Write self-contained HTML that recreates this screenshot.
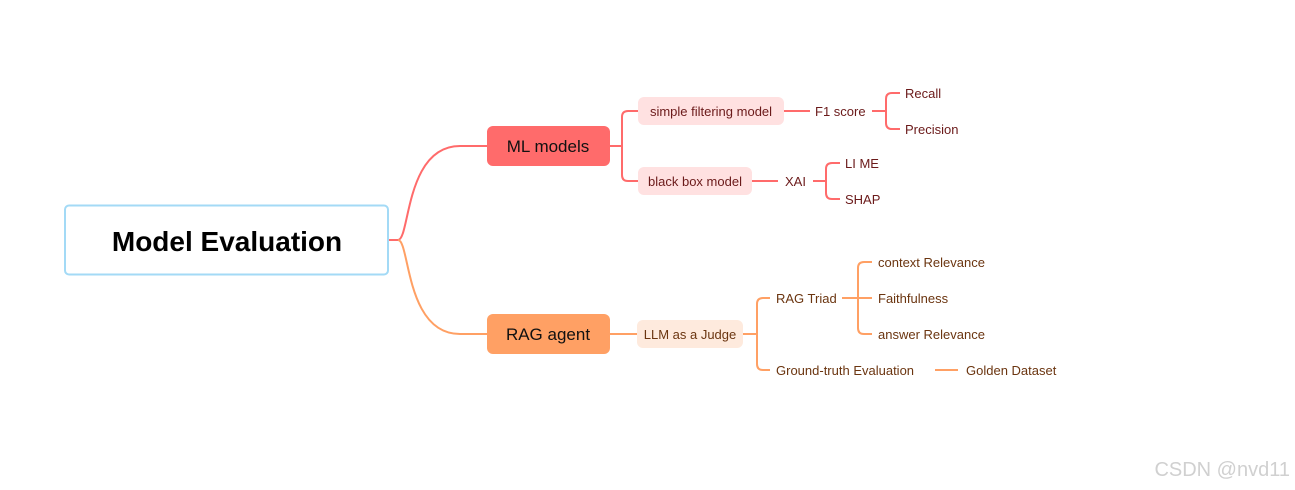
<!DOCTYPE html>
<html><head><style>
html,body{margin:0;padding:0;background:#fff;}
svg{display:block;font-family:"Liberation Sans",sans-serif;}
</style></head><body>
<svg width="1295" height="490" viewBox="0 0 1295 490">
<!-- root curves -->
<path d="M388 240 H398 C410 240 405 146 460 146 H487" fill="none" stroke="#ff6b6b" stroke-width="2"/>
<path d="M398 240 C410 240 405 334 460 334 H487" fill="none" stroke="#ffa064" stroke-width="2"/>
<rect x="65" y="205.5" width="323" height="69" rx="4" fill="#fff" stroke="#a3daf6" stroke-width="2"/>
<text x="227" y="251" font-size="28" font-weight="bold" text-anchor="middle" fill="#000">Model Evaluation</text>

<!-- ML branch -->
<g fill="none" stroke="#ff6b6b" stroke-width="2">
<path d="M610 146 H622"/>
<path d="M638 111 H628 Q622 111 622 117 V175 Q622 181 628 181 H638"/>
<path d="M784 111 H810"/>
<path d="M872 111 H886"/>
<path d="M900 93 H892 Q886 93 886 99 V123 Q886 129 892 129 H900"/>
<path d="M752 181 H778"/>
<path d="M813 181 H826"/>
<path d="M840 163 H832 Q826 163 826 169 V193 Q826 199 832 199 H840"/>
</g>
<rect x="487" y="126" width="123" height="40" rx="6" fill="#ff6b6b"/>
<text x="548" y="152" font-size="17" text-anchor="middle" fill="#111">ML models</text>
<rect x="638" y="97" width="146" height="28" rx="6" fill="#ffe1e1"/>
<text x="711" y="116" font-size="13" text-anchor="middle" fill="#6b1a1a">simple filtering model</text>
<rect x="638" y="167" width="114" height="28" rx="6" fill="#ffe1e1"/>
<text x="695" y="186" font-size="13" text-anchor="middle" fill="#6b1a1a">black box model</text>
<g font-size="13" fill="#6b1a1a">
<text x="815" y="116">F1 score</text>
<text x="905" y="98">Recall</text>
<text x="905" y="134">Precision</text>
<text x="785" y="186">XAI</text>
<text x="845" y="168">LI ME</text>
<text x="845" y="204">SHAP</text>
</g>

<!-- RAG branch -->
<g fill="none" stroke="#ffa064" stroke-width="2">
<path d="M610 334 H637"/>
<path d="M743 334 H757"/>
<path d="M770 298 H763 Q757 298 757 304 V364 Q757 370 763 370 H770"/>
<path d="M842 298 H872"/>
<path d="M872 262 H864 Q858 262 858 268 V328 Q858 334 864 334 H872"/>
<path d="M935 370 H958"/>
</g>
<rect x="487" y="314" width="123" height="40" rx="6" fill="#ffa064"/>
<text x="548" y="340" font-size="17" text-anchor="middle" fill="#111">RAG agent</text>
<rect x="637" y="320" width="106" height="28" rx="6" fill="#feeadd"/>
<text x="690" y="339" font-size="13" text-anchor="middle" fill="#6b3510">LLM as a Judge</text>
<g font-size="13" fill="#6b3510">
<text x="776" y="303">RAG Triad</text>
<text x="878" y="267">context Relevance</text>
<text x="878" y="303">Faithfulness</text>
<text x="878" y="339">answer Relevance</text>
<text x="776" y="375">Ground-truth Evaluation</text>
<text x="966" y="375">Golden Dataset</text>
</g>
<text x="1290" y="476" font-size="20" text-anchor="end" fill="#d0d0d0">CSDN @nvd11</text>
</svg>
</body></html>
